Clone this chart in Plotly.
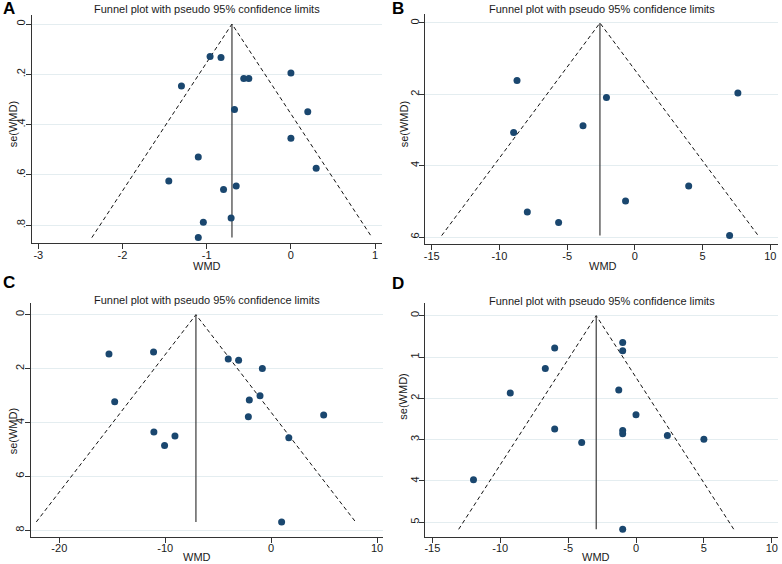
import plotly.graph_objects as go

#%% data

title_text = "Funnel plot with pseudo 95% confidence limits"

# A
wmd_a = [-0.96, -0.83, -0.56, -0.50, 0.0, -1.30, -0.67, 0.20, 0.0, -1.10,
         0.30, -1.45, -0.65, -0.80, -0.71, -1.04, -1.10]
se_a = [0.129, 0.133, 0.217, 0.217, 0.195, 0.246, 0.340, 0.349, 0.454, 0.529,
        0.573, 0.624, 0.644, 0.658, 0.771, 0.788, 0.849]
pooled_a = -0.70
xticks_a = [-3, -2, -1, 0, 1]
yticks_a = [0, 0.2, 0.4, 0.6, 0.8]
ylabels_a = ["0", ".2", ".4", ".6", ".8"]

# B
wmd_b = [-8.70, 7.60, -2.10, -3.83, -8.95, 3.97, -0.69, -7.94, -5.63, 6.99]
se_b = [1.61, 1.96, 2.09, 2.88, 3.07, 4.57, 4.99, 5.30, 5.59, 5.96]
pooled_b = -2.58
xticks_b = [-15, -10, -5, 0, 5, 10]
yticks_b = [0, 2, 4, 6]
ylabels_b = ["0", "2", "4", "6"]

# C
wmd_c = [-15.31, -11.10, -14.77, -11.07, -9.08, -10.06, -4.05, -3.07, -0.83,
         -1.05, -2.06, -2.15, 4.96, 1.67, 0.99]
se_c = [1.46, 1.38, 3.23, 4.35, 4.50, 4.85, 1.64, 1.69, 2.00, 3.01, 3.17,
        3.79, 3.72, 4.57, 7.69]
pooled_c = -7.10
xticks_c = [-20, -10, 0, 10]
yticks_c = [0, 2, 4, 6, 8]
ylabels_c = ["0", "2", "4", "6", "8"]

# D
wmd_d = [-5.99, -6.68, -9.26, -5.99, -4.00, -11.97, -0.98, -0.98, -1.27, 0.0,
         -0.98, -0.98, 2.31, 5.00, -0.98]
se_d = [0.78, 1.28, 1.87, 2.74, 3.07, 3.97, 0.65, 0.85, 1.80, 2.40, 2.78,
        2.86, 2.90, 2.99, 5.17]
pooled_d = -2.93
xticks_d = [-15, -10, -5, 0, 5, 10]
yticks_d = [0, 1, 2, 3, 4, 5]
ylabels_d = ["0", "1", "2", "3", "4", "5"]

#%% layout helpers (pixel boxes of each plot region)

W, H = 782, 564
FONT = "Liberation Sans, Arial, sans-serif"
NAVY = "#1a476f"
GRID = "#e4edf0"

def px_x(p):
    return p / W

def px_y(p):
    return 1 - p / H

panels = [
    dict(letter="A", wmd=wmd_a, se=se_a, pooled=pooled_a, xt=xticks_a, yt=yticks_a, yl=ylabels_a,
         xr=[-3.078, 1.078], yr=[0.8716, -0.0358], box=(31.7, 381.7, 15, 243.3),
         letter_at=(9, 8), title_y=9, xlab=(206.7, 265.5), ylab=(13.3, 124)),
    dict(letter="B", wmd=wmd_b, se=se_b, pooled=pooled_b, xt=xticks_b, yt=yticks_b, yl=ylabels_b,
         xr=[-15.47, 10.54], yr=[6.204, -0.252], box=(425.3, 777.7, 14, 244.3),
         letter_at=(398, 8), title_y=9, xlab=(602.7, 265.5), ylab=(404.3, 124)),
    dict(letter="C", wmd=wmd_c, se=se_c, pooled=pooled_c, xt=xticks_c, yt=yticks_c, yl=ylabels_c,
         xr=[-22.70, 10.59], yr=[8.249, -0.434], box=(30.7, 383.3, 303, 537),
         letter_at=(9, 282), title_y=299.5, xlab=(196.7, 557), ylab=(13.3, 431)),
    dict(letter="D", wmd=wmd_d, se=se_d, pooled=pooled_d, xt=xticks_d, yt=yticks_d, yl=ylabels_d,
         xr=[-15.52, 10.46], yr=[5.356, -0.30], box=(425.3, 778, 303.3, 537),
         letter_at=(398, 283), title_y=300.5, xlab=(596, 557), ylab=(402.7, 397)),
]

fig = go.Figure()
annotations = []

for i, p in enumerate(panels, start=1):
    xa = "x" if i == 1 else "x%d" % i
    ya = "y" if i == 1 else "y%d" % i
    smax = max(p["se"])
    half = 1.96 * smax

    # pseudo 95% limits
    fig.add_trace(go.Scatter(
        x=[p["pooled"] - half, p["pooled"], p["pooled"] + half],
        y=[smax, 0, smax],
        mode="lines", line=dict(color="#111111", width=1, dash="4px,3px"),
        xaxis=xa, yaxis=ya, showlegend=False, hoverinfo="skip"))
    # pooled estimate
    fig.add_trace(go.Scatter(
        x=[p["pooled"], p["pooled"]], y=[0, smax],
        mode="lines", line=dict(color="#3a3a3a", width=1.2),
        xaxis=xa, yaxis=ya, showlegend=False, hoverinfo="skip"))
    # studies
    fig.add_trace(go.Scatter(
        x=p["wmd"], y=p["se"], mode="markers",
        marker=dict(color=NAVY, size=7, line=dict(width=0)),
        xaxis=xa, yaxis=ya, showlegend=False))

    x0, x1, y0, y1 = p["box"]
    axis_common = dict(showline=True, linecolor="#333333", linewidth=1, ticks="outside",
                       ticklen=5, tickcolor="#333333", tickwidth=1, zeroline=False,
                       automargin=False,
                       tickfont=dict(family=FONT, size=11, color="#1a1a1a"))
    fig.layout["xaxis" if i == 1 else "xaxis%d" % i] = dict(
        domain=[px_x(x0), px_x(x1)], range=p["xr"], anchor=ya,
        tickvals=p["xt"], ticktext=[str(v) for v in p["xt"]],
        ticklabelstandoff=-4, showgrid=False, **axis_common)
    fig.layout["yaxis" if i == 1 else "yaxis%d" % i] = dict(
        domain=[px_y(y1), px_y(y0)], range=p["yr"], anchor=xa,
        tickvals=p["yt"], ticktext=p["yl"], tickangle=-90, ticklabelstandoff=-4,
        showgrid=True, gridcolor=GRID, gridwidth=1, **axis_common)

    annotations.append(dict(
        text="<b>%s</b>" % p["letter"], x=px_x(p["letter_at"][0]), y=px_y(p["letter_at"][1]),
        xref="paper", yref="paper", showarrow=False, xanchor="center", yanchor="middle",
        font=dict(family=FONT, size=17, color="#000000")))
    annotations.append(dict(
        text=title_text, x=px_x((x0 + x1) / 2), y=px_y(p["title_y"]),
        xref="paper", yref="paper", showarrow=False, xanchor="center", yanchor="middle",
        font=dict(family=FONT, size=11, color="#1a1a1a")))
    annotations.append(dict(
        text="WMD", x=px_x(p["xlab"][0]), y=px_y(p["xlab"][1]),
        xref="paper", yref="paper", showarrow=False, xanchor="center", yanchor="middle",
        font=dict(family=FONT, size=11, color="#1a1a1a")))
    annotations.append(dict(
        text="se(WMD)", x=px_x(p["ylab"][0]), y=px_y(p["ylab"][1]),
        xref="paper", yref="paper", showarrow=False, xanchor="center", yanchor="middle",
        textangle=-90, font=dict(family=FONT, size=11, color="#1a1a1a")))

fig.update_layout(
    width=W, height=H,
    margin=dict(l=0, r=0, t=0, b=0),
    paper_bgcolor="white", plot_bgcolor="white",
    annotations=annotations,
    showlegend=False,
)

# page body has a default 8px margin, drop it so the figure fills the window
fig.write_html("out.html", config={"displayModeBar": False},
               post_script="document.body.style.margin='0px';")
